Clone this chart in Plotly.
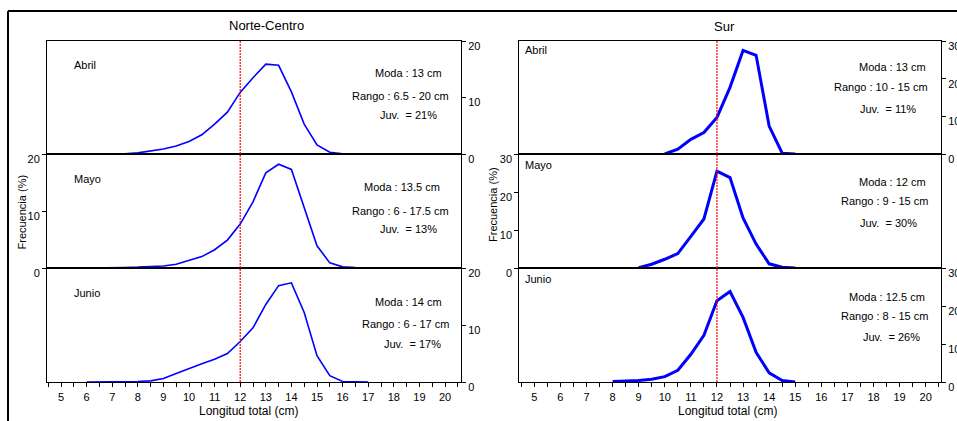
import plotly.graph_objects as go

W, H = 957, 421

# ---------------- DATA ----------------
months = ["Abril", "Mayo", "Junio"]
panel_titles = ["Norte-Centro", "Sur"]

nc_abril_x = [6.5, 7, 7.5, 8, 8.5, 9, 9.5, 10, 10.5, 11, 11.5, 12, 12.5, 13, 13.5, 14, 14.5, 15, 15.5, 16, 16.5]
nc_abril_y = [0, 0, 0.05, 0.2, 0.5, 0.9, 1.4, 2.2, 3.4, 5.3, 7.4, 10.9, 13.5, 15.9, 15.7, 11.0, 5.3, 1.6, 0.3, 0.05, 0]

nc_mayo_x = [6, 6.5, 7, 7.5, 8, 8.5, 9, 9.5, 10, 10.5, 11, 11.5, 12, 12.5, 13, 13.5, 14, 14.5, 15, 15.5, 16, 16.5, 17, 17.5]
nc_mayo_y = [0, 0, 0.05, 0.1, 0.15, 0.2, 0.35, 0.65, 1.3, 2.0, 3.2, 4.9, 7.7, 11.6, 16.7, 18.2, 17.3, 10.5, 3.9, 0.9, 0.2, 0.1, 0.05, 0]

nc_junio_x = [6, 6.5, 7, 7.5, 8, 8.5, 9, 9.5, 10, 10.5, 11, 11.5, 12, 12.5, 13, 13.5, 14, 14.5, 15, 15.5, 16, 16.5, 17]
nc_junio_y = [0, 0, 0, 0.05, 0.1, 0.2, 0.6, 1.5, 2.4, 3.2, 4.0, 5.0, 7.1, 9.5, 13.6, 16.9, 17.4, 12.2, 4.6, 1.1, 0.1, 0.05, 0]

sur_abril_x = [10, 10.5, 11, 11.5, 12, 12.5, 13, 13.5, 14, 14.5, 15]
sur_abril_y = [0, 1.3, 3.9, 5.7, 9.7, 17.7, 27.5, 26.2, 7.4, 0.2, 0]

sur_mayo_x = [9, 9.5, 10, 10.5, 11, 11.5, 12, 12.5, 13, 13.5, 14, 14.5, 15]
sur_mayo_y = [0.1, 1.0, 2.3, 3.8, 8.3, 12.9, 25.5, 23.8, 13.2, 6.3, 1.1, 0.2, 0]

sur_junio_x = [8, 8.5, 9, 9.5, 10, 10.5, 11, 11.5, 12, 12.5, 13, 13.5, 14, 14.5, 15]
sur_junio_y = [0.1, 0.2, 0.4, 0.7, 1.4, 3.1, 7.3, 12.3, 21.4, 23.8, 17.0, 7.8, 2.4, 0.4, 0]

nc_moda = ["Moda : 13 cm", "Moda : 13.5 cm", "Moda : 14 cm"]
nc_rango = ["Rango : 6.5 - 20 cm", "Rango : 6 - 17.5 cm", "Rango : 6 - 17 cm"]
nc_juv = ["Juv.\u00a0 = 21%", "Juv.\u00a0 = 13%", "Juv.\u00a0 = 17%"]
sur_moda = ["Moda : 13 cm", "Moda : 12 cm", "Moda : 12.5 cm"]
sur_rango = ["Rango : 10 - 15 cm", "Rango : 9 - 15 cm", "Rango : 8 - 15 cm"]
sur_juv = ["Juv.\u00a0 = 11%", "Juv.\u00a0 = 30%", "Juv.\u00a0 = 26%"]

x_ticks = list(range(5, 21))
nc_y_ticks = [0, 10, 20]
sur_y_ticks = [0, 10, 20, 30]
juv_limit = 12
x_title = "Longitud total (cm)"
y_title = "Frecuencia (%)"

# ---------------- LAYOUT HELPERS ----------------
FONT = "Liberation Sans, Arial, sans-serif"
def px(x):
    return x / W
def py(y):
    return 1 - y / H

row_px = [(41, 154), (154, 268), (268, 382)]
panels_px = [(47, 461), (519.3, 941)]
xranges = [[4.453, 20.625], [4.425, 20.586]]

fig = go.Figure()

nc_data = [(nc_abril_x, nc_abril_y), (nc_mayo_x, nc_mayo_y), (nc_junio_x, nc_junio_y)]
sur_data = [(sur_abril_x, sur_abril_y), (sur_mayo_x, sur_mayo_y), (sur_junio_x, sur_junio_y)]

layout = {}
for p in range(2):
    data = nc_data if p == 0 else sur_data
    yticks = nc_y_ticks if p == 0 else sur_y_ticks
    ymax = 20 if p == 0 else 30
    lw = 1.6 if p == 0 else 3
    for r in range(3):
        idx = p * 3 + r + 1
        xs = "" if idx == 1 else str(idx)
        fig.add_trace(go.Scatter(x=data[r][0], y=data[r][1], mode="lines",
                                 line=dict(color="#0000FF", width=lw),
                                 xaxis="x" + xs, yaxis="y" + xs, showlegend=False,
                                 cliponaxis=False))
        top, bot = row_px[r]
        xa = dict(domain=[px(panels_px[p][0]), px(panels_px[p][1])], range=xranges[p],
                  anchor="y" + xs, showline=True, linecolor="black", linewidth=1,
                  mirror=True, showgrid=False, zeroline=False, fixedrange=True,
                  automargin=False)
        if r == 2:
            xa.update(tickvals=x_ticks, ticks="outside", ticklen=4, tickcolor="black",
                      tickfont=dict(family=FONT, size=11, color="black"),
                      ticklabelstandoff=1,
                      minor=dict(dtick=0.5, tick0=0, ticks="outside", ticklen=4, tickcolor="black"))
        else:
            xa.update(showticklabels=False, ticks="")
        ya = dict(domain=[py(bot), py(top)], range=[0, ymax], anchor="x" + xs,
                  showline=True, linecolor="black", linewidth=1, mirror=True,
                  showgrid=False, zeroline=False, tickvals=yticks, ticks="outside",
                  ticklen=4, tickcolor="black", fixedrange=True, automargin=False,
                  tickfont=dict(family=FONT, size=11, color="black"),
                  side="left" if r == 1 else "right", ticklabelshift=5)
        layout["xaxis" + xs] = xa
        layout["yaxis" + xs] = ya

fig.update_layout(**layout)

shapes = []
# outer frame
shapes.append(dict(type="line", xref="paper", yref="paper", x0=px(8), x1=1, y0=py(11), y1=py(11),
                   line=dict(color="black", width=2)))
shapes.append(dict(type="line", xref="paper", yref="paper", x0=px(8), x1=px(8), y0=py(11), y1=0,
                   line=dict(color="black", width=2)))
# juvenile limit lines
for p, xr in enumerate(["x3", "x6"]):
    shapes.append(dict(type="line", xref=xr, yref="paper", x0=juv_limit, x1=juv_limit,
                       y0=py(382), y1=py(41), line=dict(color="#FF0000", width=1.2, dash="2px,1px")))

ann = []
def text(x, y, t, size=11, xanchor="center", angle=0):
    ann.append(dict(x=px(x), y=py(y), xref="paper", yref="paper", text=t, showarrow=False,
                    xanchor=xanchor, yanchor="middle", textangle=angle,
                    font=dict(family=FONT, size=size, color="black")))

text(266, 26, panel_titles[0], size=13)
text(724, 27, panel_titles[1], size=13)
text(21.5, 212, y_title, angle=-90)
text(493, 205, y_title, angle=-90)
text(248, 410.5, x_title, size=12)
text(727, 410.5, x_title, size=12)

nc_month_y = [65, 179, 293]
sur_month_y = [50, 165, 279]
for r in range(3):
    text(72, nc_month_y[r], months[r], xanchor="left")
    text(523, sur_month_y[r], months[r], xanchor="left")

nc_stat_pos = [[(408, 73), (400, 96), (408, 115)],
               [(402, 187), (400, 211), (408, 229)],
               [(408, 302), (405, 324), (412, 344)]]
sur_stat_pos = [[(892, 67), (881, 87), (888, 109)],
                [(892, 182), (884, 201), (888, 223)],
                [(887, 297), (884, 316), (891, 337)]]
for r in range(3):
    for (x, y), t in zip(nc_stat_pos[r], [nc_moda[r], nc_rango[r], nc_juv[r]]):
        text(x, y, t)
    for (x, y), t in zip(sur_stat_pos[r], [sur_moda[r], sur_rango[r], sur_juv[r]]):
        text(x, y, t)

fig.update_layout(width=W, height=H, margin=dict(l=0, r=0, t=0, b=0, autoexpand=False),
                  autosize=False,
                  paper_bgcolor="white", plot_bgcolor="white", shapes=shapes, annotations=ann,
                  font=dict(family=FONT, size=11, color="black"))

fig.write_html("out.html", config={"displayModeBar": False})
